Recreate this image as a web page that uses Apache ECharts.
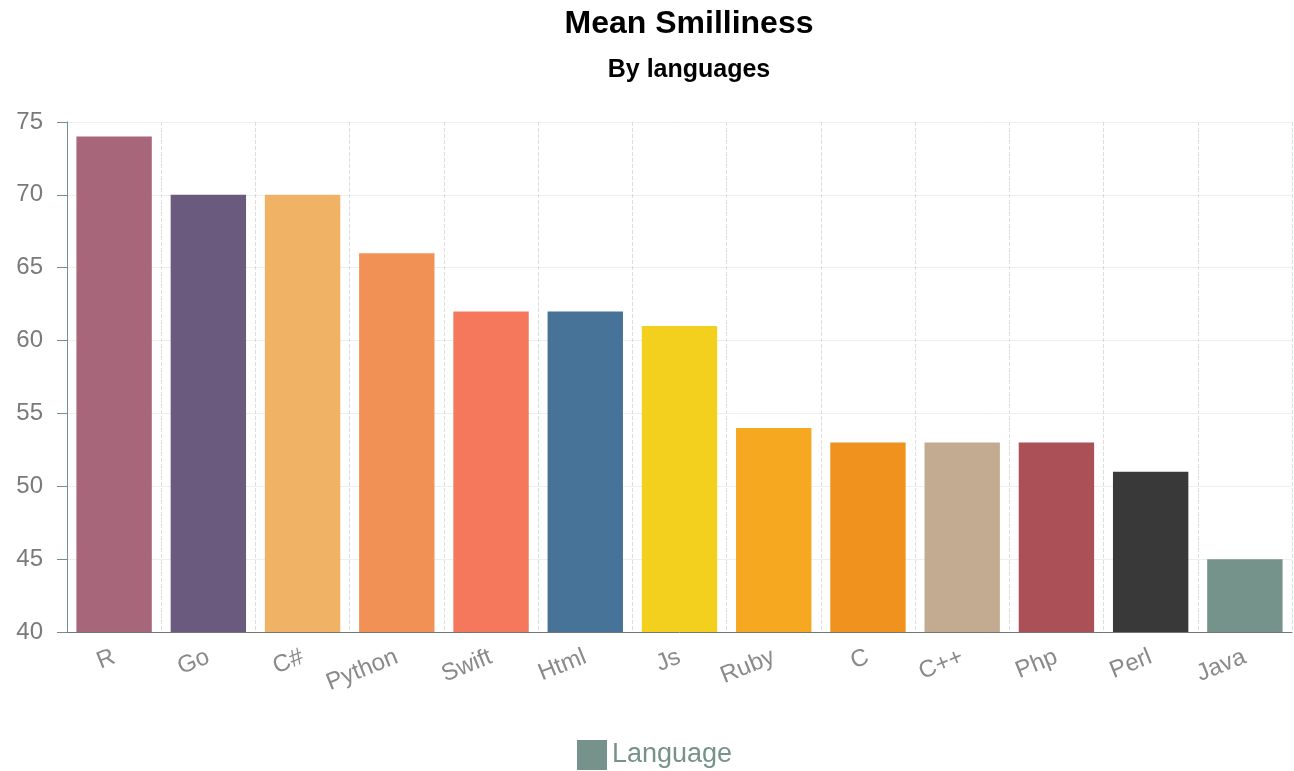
<!DOCTYPE html>
<html>
<head>
<meta charset="utf-8">
<script src="https://cdn.jsdelivr.net/npm/echarts@6/dist/echarts.min.js"></script>
<style>
  html, body { margin: 0; padding: 0; background: #fff; }
  #main { width: 1294px; height: 771px; }
</style>
</head>
<body>
<div id="main"></div>
<script>
const languages = ["R", "Go", "C#", "Python", "Swift", "Html", "Js", "Ruby", "C", "C++", "Php", "Perl", "Java"];
const smilliness = [74, 70, 70, 66, 62, 62, 61, 54, 53, 53, 53, 51, 45];
const barColors = ["#a8667a", "#6a5a7e", "#f0b264", "#f29156", "#f5775c", "#477399", "#f3d01e", "#f6a821", "#f0921e", "#c3ab91", "#ab5057", "#393939", "#75938a"];

const mychart = echarts.init(document.getElementById("main"));

const option = {
  animation: false,
  title: {
    text: "Mean Smilliness",
    subtext: "By languages",
    left: 684,
    textAlign: "center",
    top: 3,
    itemGap: 18,
    textStyle: { fontFamily: "Liberation Sans", fontSize: 32, fontWeight: "bold", color: "#000" },
    subtextStyle: { fontFamily: "Liberation Sans", fontSize: 25, fontWeight: "bold", color: "#000" },
  },
  legend: {
    top: 735,
    left: 572,
    itemWidth: 30,
    itemHeight: 30,
    itemGap: 6,
    icon: "rect",
    textStyle: { fontFamily: "Liberation Sans", fontSize: 27, color: "#76928a" },
    data: ["Language"],
  },
  grid: {
    left: 67,
    right: 2,
    top: 122,
    bottom: 139,
  },
  xAxis: {
    type: "category",
    data: languages,
    axisLine: { lineStyle: { color: "#6f7a76" } },
    axisTick: { alignWithLabel: true, length: 8, lineStyle: { color: "#6f7a76" } },
    axisLabel: { rotate: 22, fontFamily: "Liberation Sans", fontSize: 24, color: "#8a8a8a", margin: 24 },
    splitLine: { show: true, lineStyle: { type: "dashed", color: "#dddddd" } },
  },
  yAxis: {
    type: "value",
    min: 40,
    max: 75,
    interval: 5,
    axisLine: { show: true, lineStyle: { color: "#72918a" } },
    axisTick: { show: true, length: 10, lineStyle: { color: "#72918a" } },
    axisLabel: { fontFamily: "Liberation Sans", fontSize: 24, color: "#7a7a7a", margin: 24 },
    splitLine: { lineStyle: { color: "#eeeeee" } },
  },
  series: [
    {
      name: "Language",
      type: "bar",
      barCategoryGap: "20%",
      itemStyle: { color: "#75938a" },
      data: smilliness.map((v, i) => ({ value: v, itemStyle: { color: barColors[i] } })),
    },
  ],
};

mychart.setOption(option);
</script>
</body>
</html>
